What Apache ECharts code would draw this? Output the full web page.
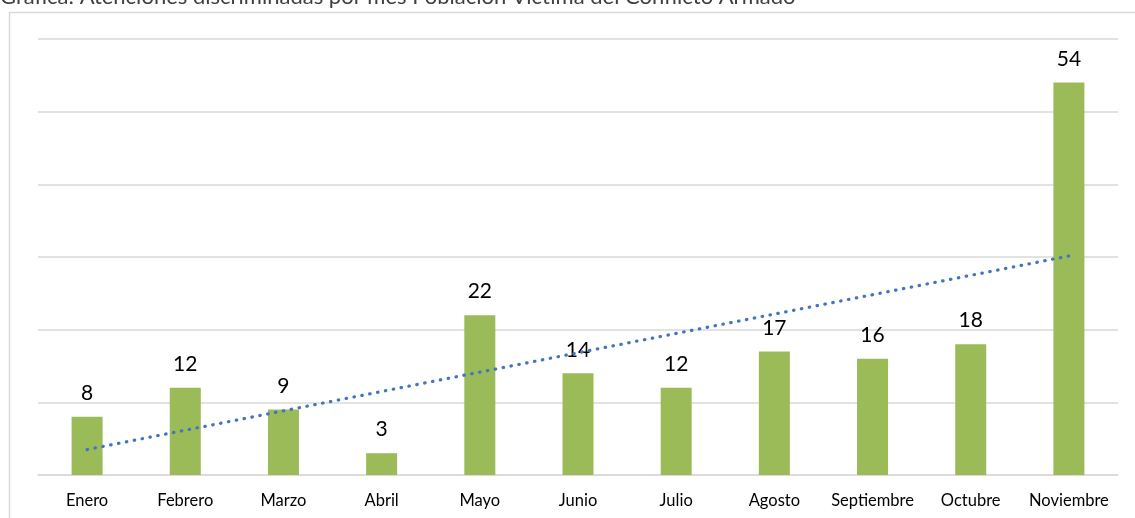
<!DOCTYPE html>
<html>
<head>
<meta charset="utf-8">
<script src="https://cdn.jsdelivr.net/npm/echarts@6/dist/echarts.min.js"></script>
<style>
  html, body { margin: 0; padding: 0; background: #fff; }
  #chart { width: 1135px; height: 518px; }
</style>
</head>
<body>
<div id="chart"></div>
<script>
// Atenciones por mes
const meses = ['Enero', 'Febrero', 'Marzo', 'Abril', 'Mayo', 'Junio', 'Julio', 'Agosto', 'Septiembre', 'Octubre', 'Noviembre'];
const atenciones = [8, 12, 9, 3, 22, 14, 12, 17, 16, 18, 54];
const titulo = 'Gráfica: Atenciones discriminadas por mes Población Víctima del Conflicto Armado';

// Linear least-squares trend over month index
function tendencia(vals) {
  const n = vals.length;
  const xs = vals.map((_, i) => i + 1);
  const mx = xs.reduce((a, b) => a + b, 0) / n;
  const my = vals.reduce((a, b) => a + b, 0) / n;
  let sxy = 0, sxx = 0;
  xs.forEach((x, i) => { sxy += (x - mx) * (vals[i] - my); sxx += (x - mx) * (x - mx); });
  const m = sxy / sxx, b = my - m * mx;
  return xs.map(x => +(m * x + b).toFixed(3));
}
const trend = tendencia(atenciones);

const font = 'Lato, "Open Sans", sans-serif';
const chart = echarts.init(document.getElementById('chart'));
chart.setOption({
  animation: false,
  textStyle: { fontFamily: font },
  graphic: [
    { type: 'rect', left: 7, top: 10, shape: { width: 1300, height: 700 },
      style: { fill: 'none', stroke: '#d9d9d9', lineWidth: 1.5 }, silent: true },
    { type: 'text', left: 0, top: -14,
      style: { text: titulo, font: '22px ' + font, fill: '#404040' } }
  ],
  grid: { left: 38, right: 17, top: 39, bottom: 43 },
  xAxis: {
    type: 'category',
    data: meses,
    axisLine: { show: true, lineStyle: { color: '#d9d9d9', width: 1.5 } },
    axisTick: { show: false },
    axisLabel: { color: '#000', fontSize: 16.5, margin: 17, interval: 0, fontFamily: font }
  },
  yAxis: {
    type: 'value',
    min: 0, max: 60, interval: 10,
    axisLabel: { show: false },
    axisLine: { show: false },
    axisTick: { show: false },
    splitLine: { lineStyle: { color: '#d9d9d9', width: 1.5 } }
  },
  series: [
    {
      type: 'bar',
      data: atenciones,
      barWidth: 31,
      itemStyle: { color: '#9BBB59' },
      label: { show: true, position: 'top', distance: 13, color: '#000', fontSize: 21, fontFamily: font }
    },
    {
      type: 'line',
      data: trend,
      symbol: 'none',
      z: 5,
      lineStyle: { color: '#4472C4', width: 3.2, type: [0.5, 7.5], cap: 'round' }
    }
  ]
});
</script>
</body>
</html>
